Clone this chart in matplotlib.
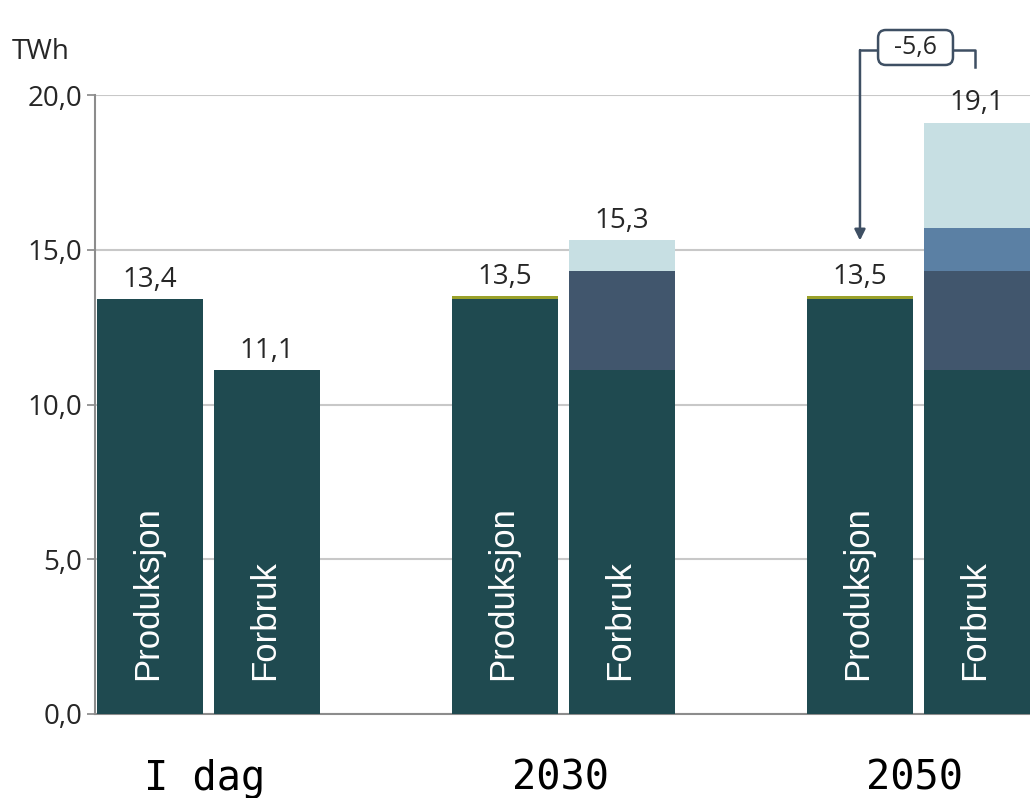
import numpy as np
import matplotlib
matplotlib.use("Agg")
import matplotlib.pyplot as plt
from matplotlib.patches import FancyBboxPatch

# data (TWh)
groups = ["I dag", "2030", "2050"]
prod_base = [13.4, 13.4, 13.4]
prod_extra = [0.0, 0.1, 0.1]
prod_total = [13.4, 13.5, 13.5]
forb_base = [11.1, 11.1, 11.1]
forb_seg2 = [0.0, 3.2, 3.2]
forb_seg3 = [0.0, 0.0, 1.4]
forb_seg4 = [0.0, 1.0, 3.4]
forb_total = [11.1, 15.3, 19.1]
yticks = [0, 5, 10, 15, 20]
diff_label = "-5,6"

c_dark = "#1f4a50"
c_green = "#9aa12a"
c_slate = "#41566d"
c_blue = "#5b80a4"
c_light = "#c7dfe3"
c_grid = "#c8c8c8"
c_text = "#262626"

fig = plt.figure(figsize=(10.30, 7.98), dpi=100)
ax = fig.add_axes([95 / 1030, 84 / 798, 935 / 1030, 619 / 798])

x = np.arange(len(groups))
w = 0.30
off = 0.165
xp = x - off
xf = x + off

ax.bar(xp, prod_base, w, color=c_dark, zorder=3)
ax.bar(xp, prod_extra, w, bottom=prod_base, color=c_green, zorder=3)

b = np.array(forb_base)
ax.bar(xf, forb_base, w, color=c_dark, zorder=3)
ax.bar(xf, forb_seg2, w, bottom=b, color=c_slate, zorder=3)
b = b + np.array(forb_seg2)
ax.bar(xf, forb_seg3, w, bottom=b, color=c_blue, zorder=3)
b = b + np.array(forb_seg3)
ax.bar(xf, forb_seg4, w, bottom=b, color=c_light, zorder=3)

fmt = lambda v: f"{v:.1f}".replace(".", ",")
for i in range(len(groups)):
    ax.annotate(fmt(prod_total[i]), (xp[i], prod_total[i]), xytext=(0, 4),
                textcoords="offset points", ha="center", va="bottom",
                fontsize=20, family="Open Sans", color=c_text, zorder=4)
    ax.annotate(fmt(forb_total[i]), (xf[i], forb_total[i]), xytext=(0, 4),
                textcoords="offset points", ha="center", va="bottom",
                fontsize=20, family="Open Sans", color=c_text, zorder=4,
                annotation_clip=False)
    ax.text(xp[i] - 0.008, 1.1, "Produksjon", rotation=90, ha="center", va="bottom",
            color="white", fontsize=25, family="Liberation Sans", zorder=4)
    ax.text(xf[i] - 0.008, 1.1, "Forbruk", rotation=90, ha="center", va="bottom",
            color="white", fontsize=25, family="Liberation Sans", zorder=4)
    ax.text(x[i] - 0.01, -0.105, groups[i], transform=ax.get_xaxis_transform(),
            ha="center", va="center", fontsize=29, family="DejaVu Sans Mono",
            color="black")

# difference bracket above 2050
lc = "#3e4f63"
ytop = 21.45
bx0, bx1 = xp[2] + 0.051, xp[2] + 0.262
by0, by1 = 20.97, 22.1
ax.annotate("", xy=(xp[2], 15.3), xytext=(xp[2], ytop),
            arrowprops=dict(arrowstyle="-|>", color=lc, lw=1.8, mutation_scale=16,
                            shrinkA=0, shrinkB=0),
            annotation_clip=False, zorder=5)
ax.plot([xp[2], bx0], [ytop, ytop], color=lc, lw=1.8, clip_on=False, zorder=5)
ax.plot([bx1, xf[2] - 0.006, xf[2] - 0.006], [ytop, ytop, 20.9],
        color=lc, lw=1.8, clip_on=False, zorder=5)
box = FancyBboxPatch((bx0, by0), bx1 - bx0, by1 - by0,
                     boxstyle="round,pad=0,rounding_size=0.022",
                     mutation_aspect=355 / 30.95, fc="white", ec=lc, lw=1.8,
                     clip_on=False, zorder=6)
ax.add_patch(box)
ax.text((bx0 + bx1) / 2, (by0 + by1) / 2, diff_label, ha="center", va="center",
        fontsize=18, family="Open Sans", color=c_text, zorder=7, clip_on=False)

ax.set_xlim(-0.32, 2.314)
ax.set_ylim(0, 20)
ax.set_yticks(yticks)
ax.set_yticklabels([fmt(v) for v in yticks], fontsize=20, family="Open Sans", color=c_text)
ax.yaxis.grid(True, color=c_grid, lw=1.5, zorder=0)
ax.set_xticks([])
ax.tick_params(axis="y", length=6, width=1.2, color="#888888", pad=3)
for s in ["top", "right"]:
    ax.spines[s].set_visible(False)
ax.spines["left"].set_color("#8c8c8c")
ax.spines["left"].set_linewidth(1.5)
ax.spines["bottom"].set_color("#8c8c8c")
ax.spines["bottom"].set_linewidth(1.5)

fig.text(12 / 1030, 1 - 52 / 798, "TWh", fontsize=20, family="Open Sans",
         color=c_text, va="center", ha="left")

fig.savefig("out.png", dpi=100)
